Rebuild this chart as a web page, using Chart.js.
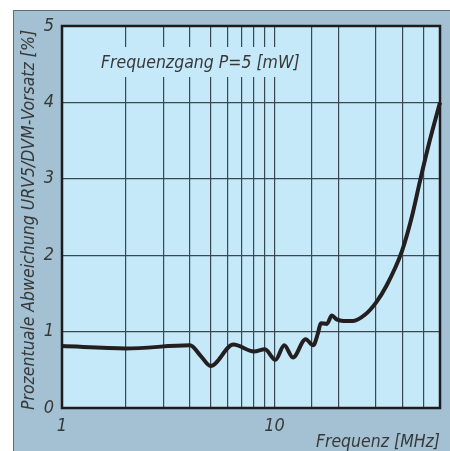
<!DOCTYPE html>
<html>
<head>
<meta charset="utf-8">
<script src="https://cdn.jsdelivr.net/npm/chart.js@4.4.1/dist/chart.umd.min.js"></script>
<style>
  html, body { margin:0; padding:0; background:#fff; overflow:hidden; }
  canvas { display:block; }
</style>
</head>
<body>
<canvas id="freqChart" width="450" height="451"></canvas>
<script>
// Frequenz in MHz, Abweichung in %
const freq = [1, 2, 4, 4.5, 5.0, 6.4, 8.0, 9.0, 10.1, 11.1, 12.2, 14.0, 15.2, 16.0, 16.5, 17.6, 18.6, 19.6, 21.1, 23.4, 26.6, 30, 33.6, 39.7, 44.2, 48.3, 53.7, 60];
const abw  = [0.81, 0.78, 0.82, 0.68, 0.55, 0.83, 0.74, 0.77, 0.63, 0.82, 0.66, 0.90, 0.82, 0.98, 1.11, 1.10, 1.21, 1.16, 1.14, 1.14, 1.22, 1.38, 1.60, 2.05, 2.5, 2.97, 3.5, 4.0];
const xLabels = [1, 10];
const yTicks = [0, 1, 2, 3, 4, 5];

const FONT = "'Liberation Sans Narrow', 'DejaVu Sans Condensed', 'Roboto Condensed', sans-serif";
const TXT = "#383838";

/* hintergrund, titel, rahmen */
const deko = {
  id: "deko",
  beforeDraw(chart){
    const {ctx, chartArea:a} = chart;
    ctx.save();
    ctx.fillStyle = "#a3c1d2";
    ctx.fillRect(13, 10, 437, 441);
    ctx.strokeStyle = "#5c6a72";
    ctx.lineWidth = 1;
    ctx.beginPath();
    ctx.moveTo(13.5, 451); ctx.lineTo(13.5, 10.5); ctx.lineTo(450, 10.5);
    ctx.stroke();
    ctx.fillStyle = "#c6e9f9";
    ctx.fillRect(a.left, a.top, a.right - a.left, a.bottom - a.top);
    // y-achsentitel
    ctx.translate(29, 220);
    ctx.rotate(-Math.PI/2);
    ctx.font = "italic 17.5px " + FONT;
    ctx.fillStyle = TXT;
    ctx.textAlign = "center";
    ctx.textBaseline = "middle";
    ctx.fillText("Prozentuale Abweichung URV5/DVM-Vorsatz [%]", 0, 0);
    ctx.restore();
  },
  beforeDatasetsDraw(chart){
    const {ctx} = chart;
    ctx.save();
    ctx.fillStyle = "#c6e9f9";
    ctx.fillRect(97, 47, 205, 30);
    ctx.font = "italic 17.5px " + FONT;
    ctx.fillStyle = TXT;
    ctx.textBaseline = "middle";
    ctx.fillText("Frequenzgang P=5 [mW]", 101, 63);
    ctx.textAlign = "right";
    ctx.font = "italic 17.5px " + FONT;
    ctx.fillText("Frequenz [MHz]", 440, 442);
    ctx.restore();
  },
  afterDatasetsDraw(chart){
    const {ctx, chartArea:a} = chart;
    ctx.save();
    ctx.strokeStyle = "#1d1b1c";
    ctx.lineWidth = 2.5;
    ctx.strokeRect(a.left, a.top, a.right - a.left, a.bottom - a.top);
    ctx.restore();
  }
};

new Chart(document.getElementById("freqChart"), {
  type: "line",
  data: {
    datasets: [{
      data: freq.map((f,i)=>({x:f, y:abw[i]})),
      borderColor: "#231f20",
      borderWidth: 4,
      pointRadius: 0,
      cubicInterpolationMode: "monotone",
      clip: 4
    }]
  },
  options: {
    responsive: false,
    animation: false,
    devicePixelRatio: 1,
    layout: { padding: { left:0, top:26, right:10, bottom:0 } },
    plugins: { legend:{ display:false }, tooltip:{ enabled:false } },
    scales: {
      x: {
        type: "logarithmic",
        min: 1, max: 60,
        afterFit(s){ s.height = 43; },
        grid: { color:"#3a4850", lineWidth:1.2, drawTicks:false },
        border: { display:false },
        ticks: {
          autoSkip:false, maxRotation:0, padding:8,
          color: TXT,
          font: { family:FONT, size:18, style:"italic" },
          callback: v => xLabels.includes(v) ? String(v) : ""
        }
      },
      y: {
        min: 0, max: 5,
        afterFit(s){ s.width = 62; },
        afterBuildTicks(s){ s.ticks = yTicks.map(v=>({value:v})); },
        grid: { color:"#3a4850", lineWidth:1.2, drawTicks:false },
        border: { display:false },
        ticks: {
          padding:8,
          color: TXT,
          font: { family:FONT, size:18, style:"italic" }
        }
      }
    }
  },
  plugins: [deko]
});
</script>
</body>
</html>
